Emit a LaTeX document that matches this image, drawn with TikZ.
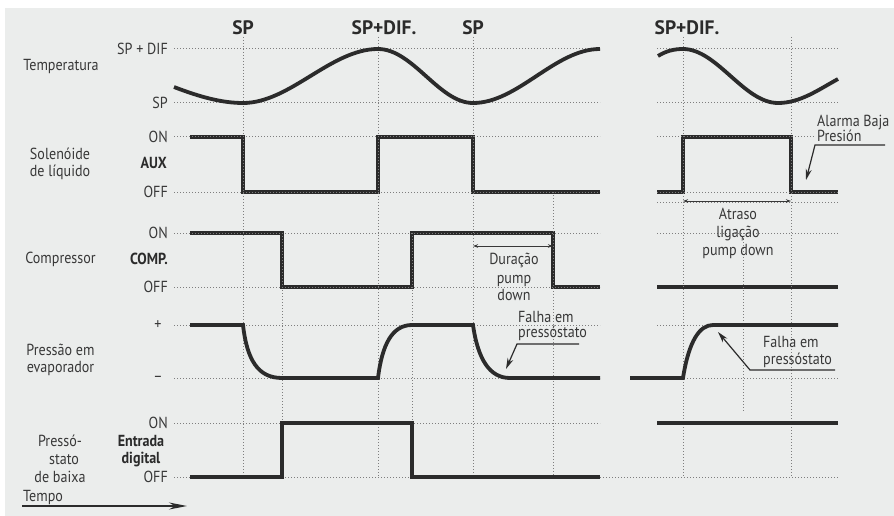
\documentclass[tikz,border=0pt]{standalone}
\usepackage{fontspec}
\setmainfont{PT Sans}[FakeStretch=0.88]
\newfontfamily\hdfont{PT Sans}[FakeStretch=1.0]
\usetikzlibrary{arrows.meta}
\definecolor{bg}{HTML}{EBEDEC}
\definecolor{ink}{HTML}{2B2B2B}
\definecolor{txt}{HTML}{383838}
\definecolor{gridc}{HTML}{7E7E7E}
\tikzset{
  gridln/.style={gridc, line width=1pt, dash pattern=on 1.2pt off 1.8pt},
  sig/.style={ink, line width=3.8pt, line join=miter},
  sigcurve/.style={ink, line width=3.8pt},
  lbl/.style={txt, inner sep=0pt, font=\fontsize{16}{18}\selectfont},
  ticklbl/.style={lbl, anchor=base east},
  rowlbl/.style={lbl, anchor=base},
  boldlbl/.style={lbl, text=ink, font=\fontsize{16}{18}\selectfont\bfseries},
  hdr/.style={inner sep=0pt, anchor=base, text=ink, font=\hdfont\bfseries\fontsize{19.5}{21}\selectfont},
  anno/.style={lbl, text=txt},
  leadln/.style={ink, line width=1.2pt},
  leadarrow/.style={leadln, -{Stealth[length=11pt,width=6pt]}},
  dimarr/.style={txt, line width=1pt, {Stealth[length=5pt,width=3.5pt]}-{Stealth[length=5pt,width=3.5pt]}}
}
\begin{document}
\begin{tikzpicture}[x=1pt,y=-1pt]
\useasboundingbox (0,0) rectangle (894,516);
\fill[white] (0,0) rectangle (894,516);
\fill[bg] (5,8) rectangle (894,516);

% solenoid and compressor signals (grid drawn over them)
\draw[sig] (190,137) -- (243,137) -- (243,192) -- (378,192) -- (378,137) -- (473,137) -- (473,192) -- (600,192);
\draw[sig] (657,192) -- (683,192) -- (683,137) -- (791,137) -- (791,192) -- (838,192);
\draw[sig] (190,233) -- (282,233) -- (282,287) -- (412,287) -- (412,233) -- (553,233) -- (553,287) -- (600,287);
\draw[sig] (657,287) -- (838,287);

% horizontal grid
\foreach \y in {49,103,137,192,233,287,325,378,423}
  \draw[gridln] (174,\y) -- (600,\y);
\foreach \y in {49,103,192,202,233,325,378}
  \draw[gridln] (657,\y) -- (838,\y);
\draw[gridln] (657,137) -- (815,137);
\draw[gridln] (174,477) -- (838,477);
% vertical grid
\foreach \x in {243,378,473,683,791}
  \draw[gridln] (\x,37) -- (\x,477);
\draw[gridln] (282,233) -- (282,423);
\draw[gridln] (412,233) -- (412,477);
\draw[gridln] (553,192) -- (553,477);
\draw[gridln] (743,233) -- (743,411);

% temperature
\draw[sigcurve] (174,87) .. controls (200,97) and (222,103) .. (243,103)
  .. controls (290,103) and (331,49) .. (378,49)
  .. controls (413,49) and (439,103) .. (473,103)
  .. controls (518,103) and (555,49) .. (600,49);
\draw[sigcurve] (658,56) .. controls (666,51) and (674,49) .. (683,49)
  .. controls (717,49) and (744,103) .. (778,103)
  .. controls (800,103) and (818,90) .. (838,79);

% pressure
\draw[sigcurve] (190,325) -- (243,325) .. controls (247,360) and (258,378) .. (282,378)
  -- (378,378) .. controls (382,345) and (392,325) .. (412,325)
  -- (473,325) .. controls (478,360) and (490,378) .. (510,378) -- (600,378);
\draw[sigcurve] (630,378) -- (683,378) .. controls (689,340) and (700,325) .. (713,325) -- (838,325);

% digital input
\draw[sig] (190,477) -- (282,477) -- (282,423) -- (412,423) -- (412,477) -- (600,477);
\draw[sig] (657,423) -- (838,423);

% headings
\node[hdr] (h1) at (243,35) {SP};
\node[hdr] (h2) at (384,35) {SP+DIF.};
\node[hdr] (h3) at (473,35) {SP};
\node[hdr] (h4) at (687,35) {SP+DIF.};

% tick labels
\node[ticklbl] (tspd) at (168,55) {SP + DIF};
\node[ticklbl] (tsp) at (168,109) {SP};
\node[ticklbl] (ton1) at (168,142.5) {ON};
\node[ticklbl] (toff1) at (168,197.5) {OFF};
\node[ticklbl] (ton2) at (168,238.5) {ON};
\node[ticklbl] (toff2) at (168,292.5) {OFF};
\node[lbl] (tplus) at (158,325) {+};
\node[lbl] (tminus) at (158,379) {–};
\node[ticklbl] (ton3) at (168,428.5) {ON};
\node[ticklbl] (toff3) at (168,482.5) {OFF};
\node[boldlbl, anchor=base east] (aux) at (167,168) {AUX};
\node[boldlbl, anchor=base east] (comp) at (168,264) {COMP.};
\node[boldlbl, anchor=base] (ent1) at (141,446) {Entrada};
\node[boldlbl, anchor=base] (ent2) at (141,463) {digital};

% row labels
\node[rowlbl] (r1) at (61,70.5) {Temperatura};
\node[rowlbl] (r2a) at (60,159) {Solenóide};
\node[rowlbl] (r2b) at (60,176) {de líquido};
\node[rowlbl] (r3) at (60.5,263) {Compressor};
\node[rowlbl] (r4a) at (60.5,355) {Pressão em};
\node[rowlbl] (r4b) at (60.5,372) {evaporador};
\node[rowlbl] (r5a) at (60,446) {Pressó-};
\node[rowlbl] (r5b) at (64,464) {stato};
\node[rowlbl] (r5c) at (60,482) {de baixa};
\node[lbl, anchor=base west] (tempo) at (23,501) {Tempo};
\coordinate (ta) at (22,506);
\coordinate (tb) at (187,506);
\draw[leadln, -{Stealth[length=18pt,width=7pt]}] (ta) -- (tb);

% pump down duration
\coordinate (da) at (473,246);
\coordinate (db) at (553,246);
\draw[dimarr] (da) -- (db);
\node[anno, anchor=base] (dur1) at (514,264) {Duração};
\node[anno, anchor=base] (dur2) at (514,283) {pump};
\node[anno, anchor=base] (dur3) at (514,300) {down};

% failure 1
\node[anno, anchor=base west] (f1a) at (518,322) {Falha em};
\node[anno, anchor=base west] (f1b) at (518,337) {pressóstato};
\coordinate (f1s) at (579,344);
\coordinate (f1k) at (517,344);
\coordinate (f1t) at (506,369);
\draw[leadarrow] (f1s) -- (f1k) -- (f1t);

% failure 2
\node[anno, anchor=base west] (f2a) at (763,347) {Falha em};
\node[anno, anchor=base west] (f2b) at (763,364) {pressóstato};
\coordinate (f2s) at (835,370);
\coordinate (f2k) at (750,370);
\coordinate (f2t) at (718,332);
\draw[leadarrow] (f2s) -- (f2k) -- (f2t);

% alarm
\node[anno, anchor=base west] (al1) at (817,126.5) {Alarma Baja};
\node[anno, anchor=base west] (al2) at (817,141.5) {Presión};
\coordinate (als) at (885,145);
\coordinate (alk) at (815,145);
\coordinate (alt) at (806,180);
\draw[leadarrow] (als) -- (alk) -- (alt);

% delay
\coordinate (aa) at (683,201);
\coordinate (ab) at (791,201);
\draw[dimarr] (aa) -- (ab);
\node[anno, anchor=base] (at1) at (738,219) {Atraso};
\node[anno, anchor=base] (at2) at (738,237) {ligação};
\node[anno, anchor=base] (at3) at (738,255) {pump down};
\end{tikzpicture}
\end{document}
